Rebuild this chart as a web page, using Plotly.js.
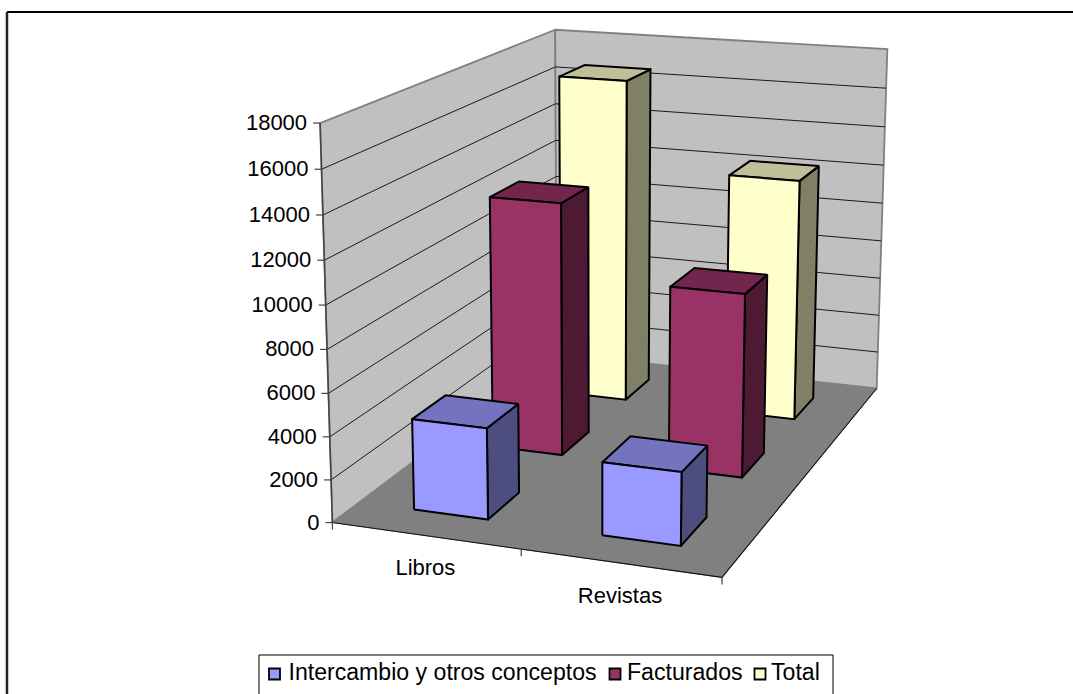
<!DOCTYPE html>
<html><head><meta charset="utf-8">
<script src="https://cdn.plot.ly/plotly-3.0.1.min.js"></script>
<style>html,body{margin:0;padding:0;background:#fff;overflow:hidden}#chart{width:1073px;height:694px}</style>
</head><body><div id="chart"></div>
<script>
// ---- data ----
const categories = ['Libros', 'Revistas'];
const seriesNames = ['Intercambio y otros conceptos', 'Facturados', 'Total'];
const intercambio = [4270, 3370];
const facturados = [12430, 8900];
const total = [16700, 12300];
const tickValues = [0, 2000, 4000, 6000, 8000, 10000, 12000, 14000, 16000, 18000];
const zMax = 18000;

// ---- styles ----
const faceFront = ['#9999FF', '#993366', '#FFFFCC'];
const faceTop = ['#7373BF', '#73264D', '#BFBF99'];
const faceSide = ['#4D4D80', '#4D1933', '#808066'];
const FONT = 'Liberation Sans, Arial, sans-serif';
const FS = 22;
const FS_LEGEND = 23.1;

// ---- camera: fit a projective map (category, depth, value) -> page position ----
const anchors = [
  [0,0,0,333,523],[1,0,0,722,577],[1,1,0,877,389],[0,1,0,556,353],
  [0,0,1,319.5,123],[0,1,1,556,30],[1,1,1,887,49]
];
function solve(A,b){
  const n=b.length, M=A.map((r,i)=>[...r,b[i]]);
  for(let c=0;c<n;c++){
    let p=c; for(let r=c+1;r<n;r++) if(Math.abs(M[r][c])>Math.abs(M[p][c])) p=r;
    [M[c],M[p]]=[M[p],M[c]];
    for(let r=0;r<n;r++){ if(r===c) continue; const f=M[r][c]/M[c][c];
      for(let k=c;k<=n;k++) M[r][k]-=f*M[c][k]; }
  }
  return M.map((r,i)=>r[n]/r[i]);
}
const cam=(()=>{
  const rows=[],rhs=[];
  anchors.forEach(([u,v,w,x,y])=>{
    const X=x/1000,Y=y/1000;
    rows.push([u,v,w,1,0,0,0,0,-X*u,-X*v,-X*w]); rhs.push(X);
    rows.push([0,0,0,0,u,v,w,1,-Y*u,-Y*v,-Y*w]); rhs.push(Y);
  });
  const N=Array.from({length:11},(_, i)=>Array.from({length:11},(_, j)=>rows.reduce((s,r)=>s+r[i]*r[j],0)));
  const B=Array.from({length:11},(_, i)=>rows.reduce((s,r,k)=>s+r[i]*rhs[k],0));
  return solve(N,B);
})();
function P(u,v,w){
  const d=cam[8]*u+cam[9]*v+cam[10]*w+1;
  return [1000*(cam[0]*u+cam[1]*v+cam[2]*w+cam[3])/d, 1000*(cam[4]*u+cam[5]*v+cam[6]*w+cam[7])/d];
}
function path(pts){ return {x:pts.map(p=>p?p[0]:null), y:pts.map(p=>p?p[1]:null)}; }
function poly(pts){ return [...pts,pts[0],null]; }
function area(pts,fill,line,lw){
  return {...path(poly(pts)),type:'scatter',mode:'lines',fill:'toself',fillcolor:fill,
    line:{color:line,width:lw},hoverinfo:'skip',showlegend:false};
}
function lines(pts,color,lw){
  return {...path(pts),type:'scatter',mode:'lines',line:{color,width:lw},hoverinfo:'skip',showlegend:false};
}

const traces=[];
// floor and walls
traces.push(area([P(0,0,0),P(1,0,0),P(1,1,0),P(0,1,0)],'#808080','#808080',1));
traces.push(area([P(0,0,0),P(0,0,1),P(0,1,1),P(0,1,0)],'#C0C0C0','#808080',1.8));
traces.push(area([P(0,1,0),P(0,1,1),P(1,1,1),P(1,1,0)],'#C0C0C0','#808080',1.8));
// gridlines
const grid=[];
tickValues.filter(t=>t>0&&t<zMax).forEach(t=>{const w=t/zMax;grid.push(P(0,0,w),P(0,1,w),P(1,1,w),null);});
traces.push(lines(grid,'#1a1a1a',1));
// floor edges and axes
traces.push(lines([P(0,0,0),P(1,0,0),P(1,1,0)],'#111',1.1));
traces.push(lines([P(0,0,0),P(0,0,1)],'#444',1.5));
// tick marks
const TICK=7, tk=[];
tickValues.forEach(t=>{const p=P(0,0,t/zMax);tk.push(p,[p[0]-TICK,p[1]],null);});
[0,0.5,1].forEach(u=>{const p=P(u,0,0);tk.push(p,[p[0],p[1]+TICK],null);});
traces.push(lines(tk,'#444',1.2));

// bars, back series first
const allSeries=[intercambio,facturados,total];
const halfU=0.1, halfV=1/3/2.5/2;
[2,1,0].forEach(s=>{
  const front=[],top=[],side=[];
  categories.forEach((c,i)=>{
    const u0=(i+.5)/categories.length-halfU,u1=u0+2*halfU;
    const v0=(s+.5)/seriesNames.length-halfV,v1=v0+2*halfV;
    const w=allSeries[s][i]/zMax;
    front.push(...poly([P(u0,v0,0),P(u1,v0,0),P(u1,v0,w),P(u0,v0,w)]));
    top.push(...poly([P(u0,v0,w),P(u1,v0,w),P(u1,v1,w),P(u0,v1,w)]));
    side.push(...poly([P(u1,v0,0),P(u1,v1,0),P(u1,v1,w),P(u1,v0,w)]));
  });
  [[side,faceSide[s]],[top,faceTop[s]],[front,faceFront[s]]].forEach(([pts,col])=>{
    traces.push({...path(pts),type:'scatter',mode:'lines',fill:'toself',fillcolor:col,
      line:{color:'#000',width:2,join:'miter'},hoverinfo:'skip',showlegend:false,name:seriesNames[s]});
  });
});

// value labels
const vt=tickValues.map(t=>P(0,0,t/zMax));
traces.push({x:vt.map(p=>p[0]-TICK-6),y:vt.map(p=>p[1]+1.5),text:tickValues.map(String),type:'scatter',mode:'text',
  textposition:'middle left',textfont:{family:FONT,size:FS,color:'#000'},hoverinfo:'skip',showlegend:false});
// category labels
const ct=categories.map((c,i)=>P((i+.5)/categories.length,0,0));
traces.push({x:ct.map(p=>p[0]),y:ct.map(p=>p[1]+34),text:categories,type:'scatter',mode:'text',
  textposition:'middle center',textfont:{family:FONT,size:FS,color:'#000'},hoverinfo:'skip',showlegend:false});

// legend
const legendBox={l:259,r:833,t:655,cy:674};
const legendSwatch=[274.5,615,760];
const legendText=[288.5,627,771];
seriesNames.forEach((n,s)=>{
  traces.push({x:[legendSwatch[s]],y:[legendBox.cy],name:n,type:'scatter',mode:'markers',
    marker:{symbol:'square',size:11,color:faceFront[s],line:{color:'#000',width:1.8}},hoverinfo:'skip',showlegend:false});
  traces.push({x:[legendText[s]],y:[legendBox.cy],text:[n],type:'scatter',mode:'text',
    textposition:'middle right',textfont:{family:FONT,size:FS_LEGEND,color:'#000'},hoverinfo:'skip',showlegend:false});
});

const seg=(x0,y0,x1,y1,lw,col)=>({type:'line',xref:'x',yref:'y',x0,y0,x1,y1,layer:'below',line:{color:col||'#000',width:lw}});

Plotly.newPlot('chart',traces,{
  width:1073,height:694,margin:{l:0,r:0,t:0,b:0},paper_bgcolor:'#fff',plot_bgcolor:'#fff',showlegend:false,
  xaxis:{range:[0,1073],visible:false,fixedrange:true},
  yaxis:{range:[694,0],visible:false,fixedrange:true},
  shapes:[
    seg(7,12,1073,12,2), seg(7,12,7,694,2.5,'#222'),
    seg(legendBox.l,legendBox.t,legendBox.r,legendBox.t,1),
    seg(legendBox.l,legendBox.t,legendBox.l,694,1),
    seg(legendBox.r,legendBox.t,legendBox.r,694,1)
  ]
},{displayModeBar:false,staticPlot:true});
</script></body></html>
